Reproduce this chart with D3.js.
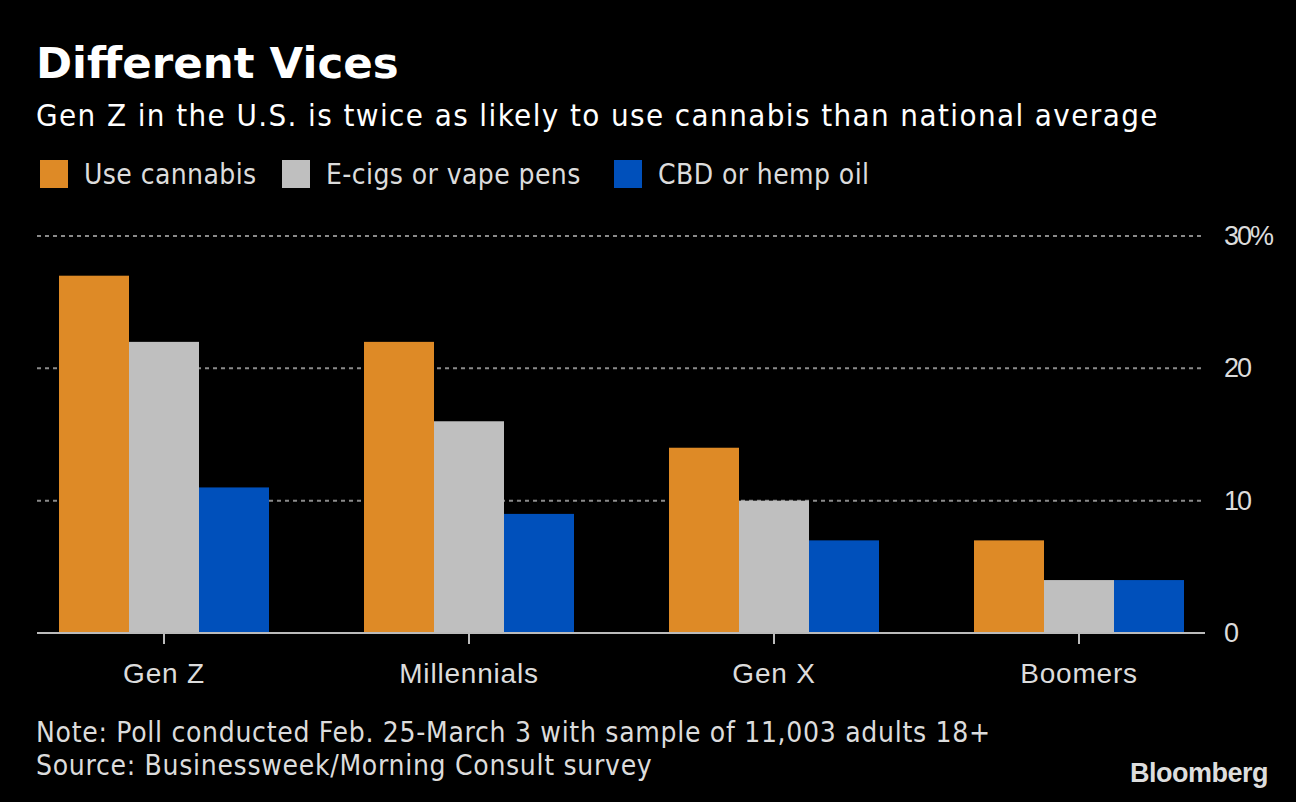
<!DOCTYPE html>
<html>
<head>
<meta charset="utf-8">
<script src="https://cdn.jsdelivr.net/npm/d3@7"></script>
<style>
  html, body { margin: 0; padding: 0; background: #000; }
  svg { display: block; font-family: "DejaVu Sans", sans-serif; font-stretch: condensed; }
  .axis text { fill: #dcdcdc; }
</style>
</head>
<body>
<svg id="chart"></svg>
<script>
// data
const generations = ['Gen Z', 'Millennials', 'Gen X', 'Boomers'];
const seriesNames = ['Use cannabis', 'E-cigs or vape pens', 'CBD or hemp oil'];
const cannabis = [27, 22, 14, 7];
const ecigs = [22, 16, 10, 4];
const cbd = [11, 9, 7, 4];
const yTicks = [0, 10, 20, 30];

const colors = ['#de8a26', '#bfbfbf', '#0050bb'];

const width = 1296, height = 802;
const svg = d3.select('#chart').attr('width', width).attr('height', height);

svg.append('rect').attr('width', width).attr('height', height).attr('fill', '#000');

// title + subtitle
svg.append('text')
    .attr('x', 36).attr('y', 78)
    .attr('fill', '#fff')
    .attr('font-size', 43.5).attr('font-weight', 'bold')
    .style('font-stretch', 'normal')
    .text('Different Vices');

svg.append('text')
    .attr('x', 36).attr('y', 126)
    .attr('fill', '#fff')
    .attr('font-size', 31)
    .style('letter-spacing', '1.4px')
    .text('Gen Z in the U.S. is twice as likely to use cannabis than national average');

// legend
const legendX = [40, 282, 614];
const legend = svg.append('g').selectAll('g')
    .data(seriesNames)
  .join('g')
    .attr('transform', (d, i) => `translate(${legendX[i]},160)`);
legend.append('rect')
    .attr('width', 28).attr('height', 28)
    .attr('fill', (d, i) => colors[i]);
legend.append('text')
    .attr('x', 44).attr('y', 24)
    .attr('fill', '#dcdcdc')
    .attr('font-size', 28)
    .style('letter-spacing', '0.4px')
    .text(d => d);

// scales
const plotLeft = 37, plotRight = 1205;
const x0 = d3.scaleBand()
    .domain(generations)
    .range([11.5, 1231.5])
    .paddingInner(95 / 305)
    .paddingOuter(95 / 610);
const x1 = d3.scaleBand()
    .domain(seriesNames)
    .range([0, x0.bandwidth()]);
const y = d3.scaleLinear()
    .domain([0, 30])
    .range([633, 236]);

// gridlines
svg.append('g').selectAll('line')
    .data(yTicks.filter(d => d > 0))
  .join('line')
    .attr('x1', plotLeft).attr('x2', plotRight)
    .attr('y1', d => y(d)).attr('y2', d => y(d))
    .attr('stroke', '#8a8a8a')
    .attr('stroke-width', 2)
    .attr('stroke-dasharray', '4,4');

// y axis labels on the right
const yAxis = svg.append('g')
    .attr('class', 'axis')
    .attr('transform', `translate(${plotRight},0)`)
    .call(d3.axisRight(y).tickValues(yTicks).tickSize(0).tickPadding(19)
        .tickFormat(d => d === 30 ? '30%' : d));
yAxis.select('.domain').remove();
yAxis.selectAll('text')
    .attr('font-size', 27)
    .attr('font-family', null)
    .style('letter-spacing', '-2px');

// bars
const rows = generations.map((g, i) => ({
  gen: g,
  values: [cannabis[i], ecigs[i], cbd[i]]
}));

svg.append('g').selectAll('g')
    .data(rows)
  .join('g')
    .attr('transform', d => `translate(${x0(d.gen)},0)`)
  .selectAll('rect')
    .data(d => d.values.map((v, i) => ({ key: seriesNames[i], value: v, i })))
  .join('rect')
    .attr('x', d => x1(d.key))
    .attr('width', x1.bandwidth())
    .attr('y', d => y(d.value))
    .attr('height', d => y(0) - y(d.value))
    .attr('fill', d => colors[d.i]);

// x axis
const xAxis = svg.append('g')
    .attr('class', 'axis')
    .attr('transform', `translate(0,${y(0)})`)
    .call(d3.axisBottom(x0).tickSize(11).tickPadding(19).tickSizeOuter(0));
xAxis.select('.domain').remove();
xAxis.append('line')
    .attr('x1', plotLeft).attr('x2', plotRight)
    .attr('stroke', '#bbb').attr('stroke-width', 2);
xAxis.selectAll('.tick line').attr('stroke', '#bbb').attr('stroke-width', 2);
xAxis.selectAll('text')
    .attr('font-size', 28)
    .attr('font-family', null)
    .style('letter-spacing', '0.8px');

// notes
svg.append('text')
    .attr('x', 36).attr('y', 742)
    .attr('fill', '#dcdcdc').attr('font-size', 28)
    .style('letter-spacing', '0.7px')
    .text('Note: Poll conducted Feb. 25-March 3 with sample of 11,003 adults 18+');
svg.append('text')
    .attr('x', 36).attr('y', 775)
    .attr('fill', '#dcdcdc').attr('font-size', 28)
    .style('letter-spacing', '0.7px')
    .text('Source: Businessweek/Morning Consult survey');

svg.append('text')
    .attr('x', 1268).attr('y', 782)
    .attr('text-anchor', 'end')
    .attr('fill', '#ddd')
    .attr('font-size', 27).attr('font-weight', 'bold')
    .style('font-family', 'Liberation Sans, Arial, sans-serif')
    .style('font-stretch', 'normal')
    .style('letter-spacing', '-0.5px')
    .text('Bloomberg');
</script>
</body>
</html>
